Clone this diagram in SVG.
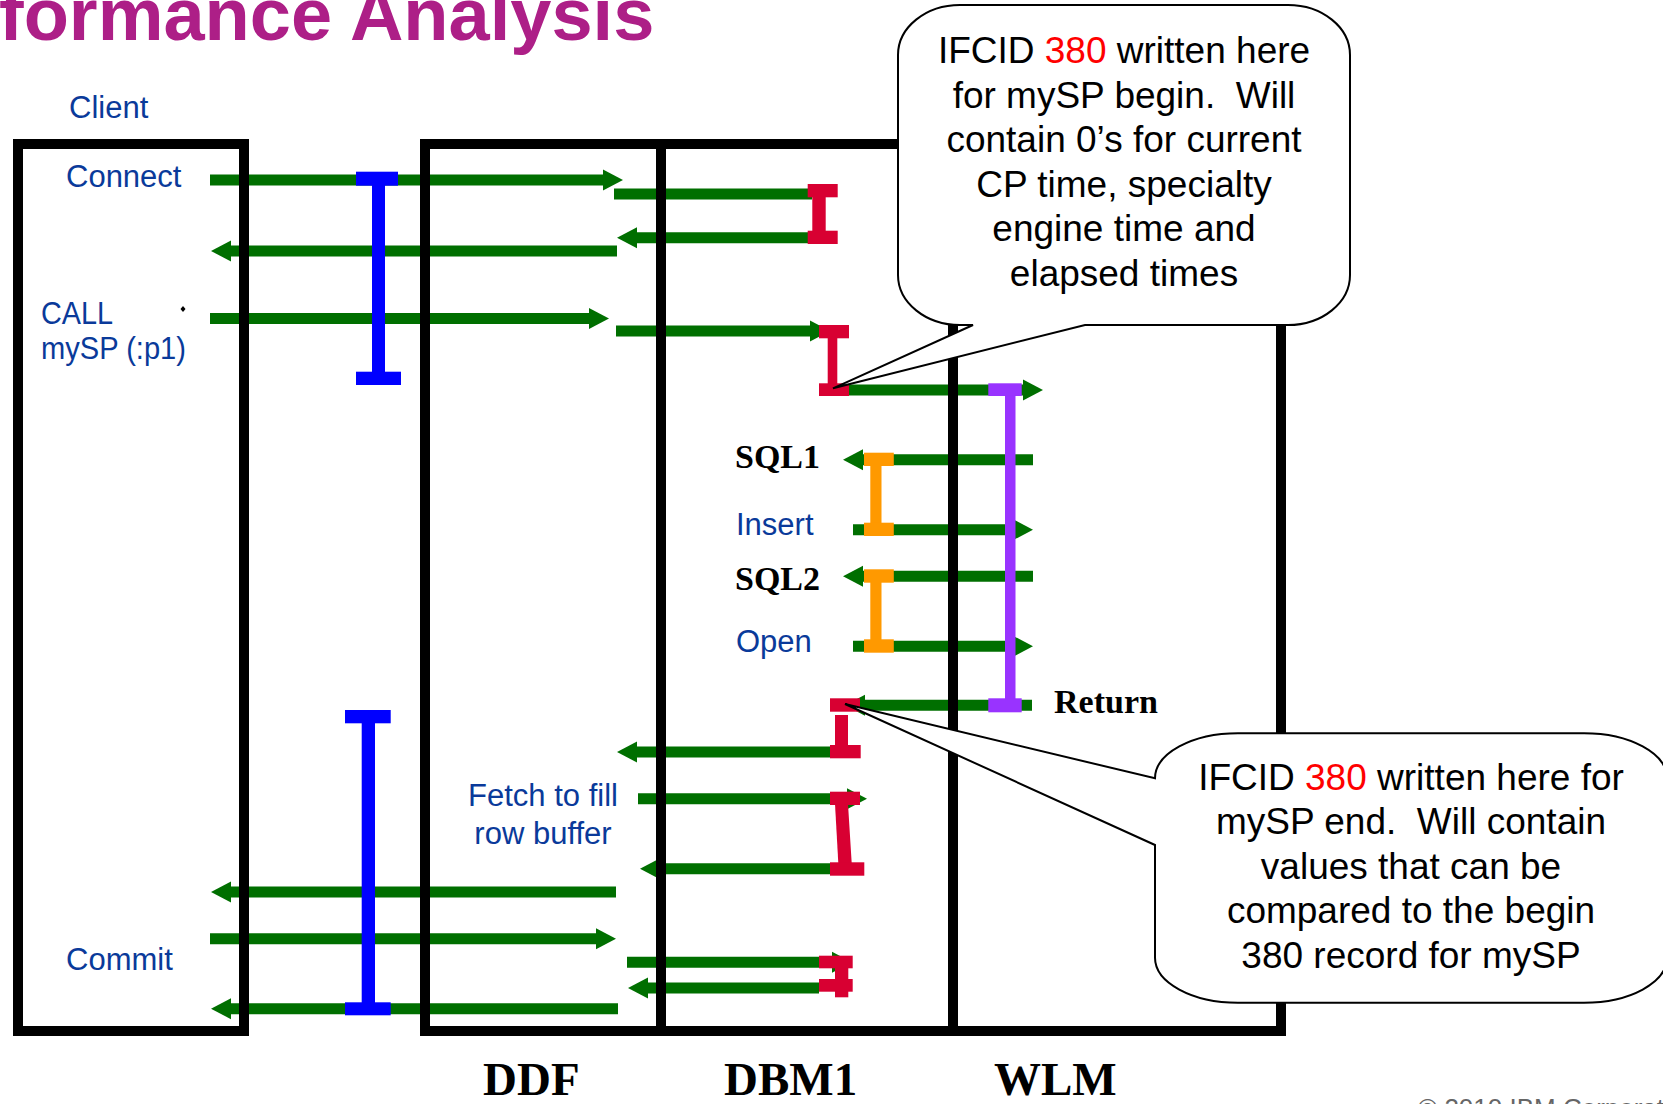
<svg xmlns="http://www.w3.org/2000/svg" width="1663" height="1104" viewBox="0 0 1663 1104">
<style>
.frame{fill:none;stroke:#000;stroke-width:10}
.g{stroke:#006F00;stroke-width:11;fill:none}
.ga{stroke:#006F00;stroke-width:11;fill:none;marker-end:url(#ah)}
.lbl{font-family:"Liberation Sans",Arial,sans-serif;font-size:31px;fill:#0A3A9A}
.tb{font-family:"Liberation Serif","Times New Roman",serif;font-weight:bold;font-size:34px;fill:#000}
.sys{font-family:"Liberation Serif","Times New Roman",serif;font-weight:bold;font-size:47px;fill:#000}
.co{fill:#fff;stroke:#000;stroke-width:2;stroke-linejoin:miter}
.cot{font-family:"Liberation Sans",Arial,sans-serif;font-size:37px;fill:#000;text-anchor:middle}
.r{fill:#FF0000}
.blue{fill:#0000FF}
.crim{fill:#D80032}
.orng{fill:#FF9900}
.purp{fill:#9933FF}
</style>
<defs>
<marker id="ah" markerUnits="userSpaceOnUse" markerWidth="20" markerHeight="22" viewBox="0 -11 20 22" refX="0" refY="0" orient="auto" overflow="visible">
<path d="M0,-10.5 L20,0 L0,10.5 z" fill="#006F00"/>
</marker>
</defs>
<rect width="1663" height="1104" fill="#fff"/>

<text id="title" x="-1" y="40" font-family="'Liberation Sans',Arial,sans-serif" font-weight="bold" font-size="74" fill="#AD1F87">formance Analysis</text>

<g id="connectors">
<line class="ga" x1="210" y1="180" x2="603" y2="180"/>
<line class="g" x1="614" y1="194" x2="812" y2="194"/>
<line class="ga" x1="808" y1="237.7" x2="637" y2="237.7"/>
<line class="ga" x1="617" y1="251" x2="231" y2="251"/>
<line class="ga" x1="210" y1="318.5" x2="589" y2="318.5"/>
<line class="ga" x1="616" y1="331" x2="810" y2="331"/>
<line class="ga" x1="835" y1="390" x2="1023" y2="390"/>
<line class="ga" x1="1033" y1="459.7" x2="863" y2="459.7"/>
<line class="ga" x1="853" y1="529.7" x2="1013" y2="529.7"/>
<line class="ga" x1="1033" y1="576.3" x2="863" y2="576.3"/>
<line class="ga" x1="853" y1="646.3" x2="1013" y2="646.3"/>
<line class="ga" x1="1032" y1="705.3" x2="865" y2="705.3"/>
<line class="ga" x1="830" y1="752" x2="637" y2="752"/>
<line class="ga" x1="638" y1="798.7" x2="847" y2="798.7"/>
<line class="ga" x1="830" y1="868.7" x2="660" y2="868.7"/>
<line class="ga" x1="616" y1="892" x2="231" y2="892"/>
<line class="ga" x1="210" y1="938.7" x2="596" y2="938.7"/>
<line class="ga" x1="627" y1="962.3" x2="832" y2="962.3"/>
<line class="ga" x1="819" y1="988" x2="648" y2="988"/>
<line class="ga" x1="618" y1="1008.7" x2="231" y2="1008.7"/>
</g>

<g id="client">
<rect class="frame" x="18" y="144" width="226" height="887"/>
<text class="lbl" x="69" y="118">Client</text>
<text class="lbl" x="66" y="187">Connect</text>
<text class="lbl" x="41" y="324" textLength="72" lengthAdjust="spacingAndGlyphs">CALL</text>
<text class="lbl" x="41" y="359" textLength="145" lengthAdjust="spacingAndGlyphs">mySP (:p1)</text>
<polygon points="183,306 185.5,309 183,312 180.5,309" fill="#000"/>
<text class="lbl" x="66" y="970">Commit</text>
</g>

<g id="lanes">
<rect class="frame" x="425" y="144" width="856" height="887"/>
<line class="frame" x1="661" y1="144" x2="661" y2="1031"/>
<line class="frame" x1="953" y1="144" x2="953" y2="1031"/>
</g>
<g id="ddf"><text class="sys" x="483" y="1095">DDF</text>
<text class="lbl" x="543" y="806" text-anchor="middle">Fetch to fill</text>
<text class="lbl" x="543" y="844" text-anchor="middle">row buffer</text></g>
<g id="dbm1"><text class="sys" x="724" y="1095">DBM1</text>
<text class="tb" x="735" y="468">SQL1</text>
<text class="lbl" x="736" y="535">Insert</text>
<text class="tb" x="735" y="590">SQL2</text>
<text class="lbl" x="736" y="652">Open</text></g>
<g id="wlm"><text class="sys" x="994" y="1095">WLM</text>
<text class="tb" x="1054" y="713">Return</text></g>

<g id="bar-ddf-connect" class="blue">
<rect x="356" y="171.7" width="42" height="14"/>
<rect x="372" y="185" width="13" height="187"/>
<rect x="356" y="371.7" width="45" height="13.3"/>
</g>
<g id="bar-ddf-commit" class="blue">
<rect x="345" y="710" width="45.7" height="13.3"/>
<rect x="361.7" y="723" width="13.3" height="280"/>
<rect x="345" y="1002.3" width="45.7" height="13"/>
</g>
<g id="bar-dbm1-connect" class="crim">
<rect x="807.7" y="184" width="30" height="13.3"/>
<rect x="812.3" y="197" width="13.4" height="34"/>
<rect x="807.7" y="230.7" width="30" height="13.3"/>
</g>
<g id="bar-dbm1-call" class="crim">
<rect x="819" y="325" width="30" height="13.3"/>
<rect x="827.7" y="338" width="9.6" height="46"/>
<rect x="819" y="383.3" width="30" height="12.7"/>
</g>
<g id="bar-dbm1-return" class="crim">
<rect x="830" y="698.3" width="30" height="13.4"/>
<rect x="835" y="715" width="13" height="31"/>
<rect x="830" y="745" width="30.7" height="13.3"/>
</g>
<g id="bar-dbm1-fetch" class="crim">
<rect x="830" y="791.7" width="30" height="13.3"/>
<polygon points="835,804 848,804 851.7,863 838.3,863"/>
<rect x="830" y="862.3" width="34.3" height="13.4"/>
</g>
<g id="bar-dbm1-commit" class="crim">
<rect x="819" y="955.7" width="33.7" height="12.6"/>
<rect x="835" y="968" width="13.3" height="29.3"/>
<rect x="819" y="979" width="33.7" height="12.7"/>
</g>
<g id="bar-sql1" class="orng">
<rect x="864" y="452.7" width="29.8" height="13.3"/>
<rect x="870.3" y="465.5" width="11.2" height="58"/>
<rect x="864" y="522.7" width="29.8" height="13.3"/>
</g>
<g id="bar-sql2" class="orng">
<rect x="864" y="569.3" width="29.8" height="13.4"/>
<rect x="870.3" y="582" width="11.2" height="58"/>
<rect x="864" y="639.3" width="29.8" height="13.4"/>
</g>
<g id="bar-wlm" class="purp">
<rect x="988.3" y="383.3" width="33.4" height="12.7"/>
<rect x="1005" y="395.5" width="10.5" height="303.5"/>
<rect x="988.3" y="698.3" width="33.4" height="14"/>
</g>

<g id="callout-begin">
<path class="co" d="M960,5 L1288,5 A62,50 0 0 1 1350,55 L1350,275 A62,50 0 0 1 1288,325 L1085,325 L833,388.3 L973,325 L960,325 A62,50 0 0 1 898,275 L898,55 A62,50 0 0 1 960,5 Z"/>
<text class="cot" x="1124" y="63">IFCID <tspan class="r">380</tspan> written here</text>
<text class="cot" x="1124" y="107.5">for mySP begin.&#160; Will</text>
<text class="cot" x="1124" y="152">contain 0’s for current</text>
<text class="cot" x="1124" y="196.5">CP time, specialty</text>
<text class="cot" x="1124" y="241">engine time and</text>
<text class="cot" x="1124" y="285.5">elapsed times</text>
</g>

<g id="callout-end">
<path class="co" d="M1238,733.3 L1584,733.3 A83,45 0 0 1 1667,778.3 L1667,957.7 A83,45 0 0 1 1584,1002.7 L1238,1002.7 A83,45 0 0 1 1155,957.7 L1155,845 L845,704 L1155,778.3 A83,45 0 0 1 1238,733.3 Z"/>
<text class="cot" x="1411" y="789.5">IFCID <tspan class="r">380</tspan> written here for</text>
<text class="cot" x="1411" y="834">mySP end.&#160; Will contain</text>
<text class="cot" x="1411" y="878.5">values that can be</text>
<text class="cot" x="1411" y="923">compared to the begin</text>
<text class="cot" x="1411" y="967.5">380 record for mySP</text>
</g>

<text id="copyright" x="1418" y="1117" font-family="'Liberation Sans',Arial,sans-serif" font-size="26" fill="#666">© 2010 IBM Corporation</text>
</svg>
